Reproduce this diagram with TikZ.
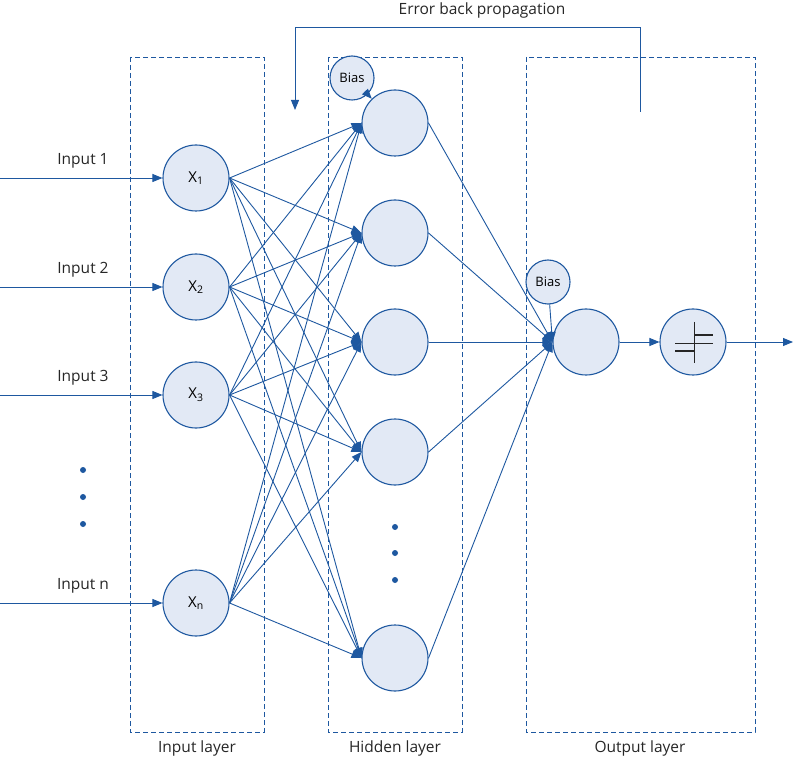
\documentclass[tikz,border=0pt]{standalone}
\usepackage{fontspec}
\setmainfont{Open Sans}
\usetikzlibrary{arrows.meta}
\definecolor{lb}{RGB}{30,88,160}
\definecolor{nf}{RGB}{226,233,245}
\begin{document}
\begin{tikzpicture}[x=1pt,y=-1pt,
 neu/.style={circle,draw=lb,fill=nf,line width=1.1pt,minimum size=66pt,inner sep=0pt,font=\fontsize{15}{17}\selectfont},
 bias/.style={circle,draw=lb,fill=nf,line width=1.1pt,minimum size=44pt,inner sep=0pt,font=\fontsize{13}{15}\selectfont},
 con/.style={draw=lb,line width=0.9pt,-{Triangle[length=10pt,width=8pt]}},
 box/.style={draw=lb,dash pattern=on 5pt off 3pt,line width=0.9pt},
 lbl/.style={font=\fontsize{15.5}{18}\selectfont,text=black!85},
 dot/.style={circle,fill=lb,inner sep=0pt,minimum size=6pt}]
\useasboundingbox (0,0) rectangle (796,762);
\draw[box] (130,57) rectangle (264,732);
\draw[box] (328,57) rectangle (462,732);
\draw[box] (526,57) rectangle (755,732);
\node[lbl] (l1) at (197,748) {Input layer};
\node[lbl] (l2) at (395,748) {Hidden layer};
\node[lbl] (l3) at (640,748) {Output layer};
\node[lbl] (eb) at (482,10) {Error back propagation};
\coordinate (e0) at (640,112);
\coordinate (e1) at (295,110);
\draw[con] (e0) -- (640,27) -- (295,27) -- (e1);
\foreach \i/\y/\t/\s in {1/178/Input 1/1,2/287/Input 2/2,3/395/Input 3/3,4/603/Input n/n}{
 \node[neu] (x\i) at (196,\y) {X$_{\mathrm{\s}}$};
 \coordinate (s\i) at (0,\y);
 \node[lbl,anchor=south] (il\i) at (83,\y-6) {\t};
 \draw[con] (s\i) -- (x\i);
}
\node[dot] (d1) at (83,470) {};\node[dot] (d2) at (83,497) {};\node[dot] (d3) at (83,524) {};
\foreach \j/\y in {1/123,2/233,3/342,4/452,5/658}{
 \node[neu] (h\j) at (395,\y) {};
}
\node[dot] (d4) at (395,527) {};\node[dot] (d5) at (395,553) {};\node[dot] (d6) at (395,580) {};
\foreach \i in {1,...,4}{\foreach \j in {1,...,5}{\draw[con] (x\i.east) -- (h\j.west);}}
\node[bias] (b1) at (352,78) {Bias};
\draw[con] (b1) -- (h1);
\node[neu] (o) at (586,342) {};
\node[bias] (b2) at (548,282) {Bias};
\foreach \j in {1,...,5}{\draw[con] (h\j.east) -- (o.west);}
\draw[con] (b2) -- (o.west);
\node[neu] (a) at (693,342) {};
\draw[con] (o) -- (a);
\coordinate (out) at (793,342);
\draw[con] (a) -- (out);
\draw[black!85,line width=0.7pt] (694,322) -- (694,363) (675,343) -- (713,343);
\draw[black!85,line width=1.8pt] (675,351) -- (694,351) (694,335) -- (713,335);
\end{tikzpicture}
\end{document}
